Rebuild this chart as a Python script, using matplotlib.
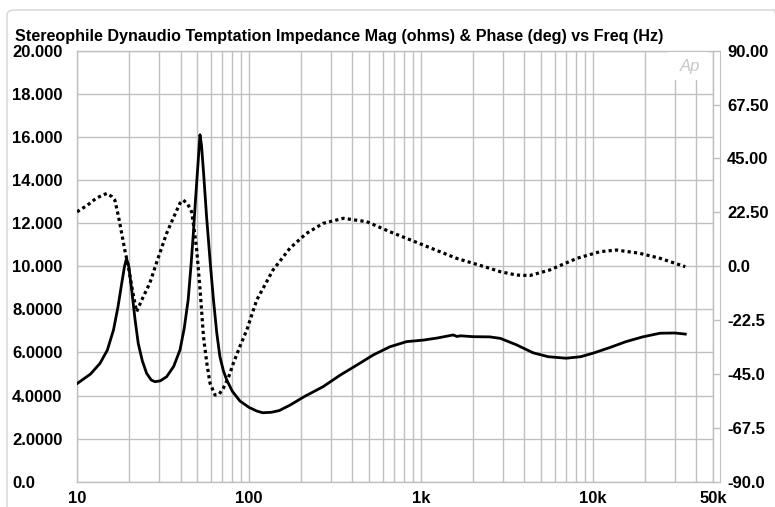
import matplotlib
matplotlib.use("Agg")
import matplotlib.pyplot as plt
from matplotlib.ticker import FixedLocator, LogLocator, NullFormatter
from matplotlib.patches import FancyBboxPatch, Rectangle

# ---- data ----
mag_freq = [10, 12, 13.6, 15, 16.3, 17.3, 18.2, 18.9, 19.4, 20.0, 20.8, 21.7, 22.7, 24, 25.4,
            27, 28.4, 30.5, 33.2, 36.5, 39.7, 42, 44.3, 46, 47.5, 49, 50.6, 51.9, 53, 54.5,
            56.7, 59.5, 62.2, 65, 67.8, 71, 74.3, 80, 88.5, 100, 111, 120, 135, 150, 173,
            210, 270, 340, 424, 528, 660, 826, 1031, 1250, 1541, 1620, 1700, 2010, 2518,
            2900, 3600, 4500, 5500, 7000, 8500, 10000, 12500, 15600, 19500, 24600, 30000, 34500]
mag_ohms = [4.55, 5.0, 5.49, 6.1, 7.04, 8.1, 9.2, 10.0, 10.35, 10.0, 8.9, 7.6, 6.42, 5.6, 5.03,
            4.72, 4.64, 4.68, 4.87, 5.35, 6.11, 7.1, 8.43, 10.0, 11.53, 13.2, 14.8, 16.1, 15.6, 14.3,
            12.3, 10.2, 8.43, 6.9, 5.8, 5.15, 4.72, 4.2, 3.75, 3.45, 3.28, 3.2, 3.22, 3.3, 3.55,
            3.95, 4.41, 4.95, 5.41, 5.88, 6.26, 6.50, 6.57, 6.67, 6.81, 6.74, 6.77, 6.73, 6.72,
            6.65, 6.35, 5.98, 5.8, 5.73, 5.8, 5.96, 6.22, 6.50, 6.72, 6.89, 6.9, 6.85]

ph_freq = [10, 11.5, 13, 14.9, 16.0, 16.6, 17.4, 18.2, 19.0, 19.9, 21.0, 22.2, 24.2, 26.5, 29.5,
           33.2, 36.5, 39.7, 41.5, 44, 46.4, 48, 49.7, 52, 54.4, 57, 59.4, 63.5, 67, 70.9,
           76, 81.1, 88.5, 97.2, 111, 138, 173, 216, 270, 354, 484, 660, 1031, 1612, 2518,
           2900, 3600, 4300, 5600, 8100, 11000, 13700, 18700, 24600, 34500]
ph_deg = [22.7, 25.5, 28.5, 30.4, 29.0, 27.6, 21.0, 13.7, 6.5, -0.2, -10, -19.0, -13, -7.1, 3.0,
          13.7, 20.5, 26.3, 27.6, 26.0, 22.75, 15.5, 6.76, -10, -29.4, -41, -48.9, -53.8, -53.5, -51.0,
          -46.5, -40.6, -33.6, -26.6, -14.1, -1.6, 7.5, 13.7, 17.9, 20.0, 18.6, 14.4, 8.85, 3.3, -0.9,
          -2.3, -3.7, -3.9, -1.6, 3.3, 6.05, 6.76, 5.4, 3.3, -0.2]

x_ticks = [10, 100, 1000, 10000, 50000]
x_labels = ["10", "100", "1k", "10k", "50k"]
left_ticks = [0, 2, 4, 6, 8, 10, 12, 14, 16, 18, 20]
left_labels = ["0.0", "2.0000", "4.0000", "6.0000", "8.0000", "10.000", "12.000",
               "14.000", "16.000", "18.000", "20.000"]
right_ticks = [-90, -67.5, -45, -22.5, 0, 22.5, 45, 67.5, 90]
right_labels = ["-90.0", "-67.5", "-45.0", "-22.5", "0.0", "22.50", "45.00", "67.50", "90.00"]
title = "Stereophile Dynaudio Temptation Impedance Mag (ohms) & Phase (deg) vs Freq (Hz)"

# ---- figure ----
W, H = 775, 507
plt.rcParams['font.family'] = ['Liberation Sans', 'DejaVu Sans']
plt.rcParams['font.weight'] = 'bold'
fig = plt.figure(figsize=(W / 100, H / 100), dpi=100)

L, R, T, B = 77, 713, 50.7, 481.7
ax = fig.add_axes([L / W, 1 - B / H, (R - L) / W, (B - T) / H])

grid_c = "#c0c0c0"
# outer border
fig.add_artist(FancyBboxPatch((7 / W, -0.2), 1.0, (H - 10) / H + 0.2,
                              boxstyle="round,pad=0,rounding_size=0.01",
                              transform=fig.transFigure, fill=False,
                              edgecolor="#d4d4d4", linewidth=1.0))

FS = 12
ax.set_xscale("log")
ax.set_xlim(10, 50000)
ax.set_ylim(0, 20)
ax.xaxis.set_major_locator(FixedLocator(x_ticks))
ax.xaxis.set_minor_locator(LogLocator(base=10, subs=range(2, 10), numticks=20))
ax.xaxis.set_minor_formatter(NullFormatter())
ax.tick_params(axis="x", which="both", length=0, pad=7)
ax.tick_params(axis="y", which="both", length=0, pad=46.8)
ax.set_xticklabels(x_labels, fontsize=FS, fontweight="bold")
ax.set_yticks(left_ticks)
ax.set_yticklabels(left_labels, fontsize=FS, fontweight="bold", ha="left")
ax.grid(True, which="both", axis="x", color=grid_c, linewidth=1.0)
ax.grid(True, which="major", axis="y", color=grid_c, linewidth=1.0)
ax.set_axisbelow(True)
for s in ax.spines.values():
    s.set_color(grid_c)
    s.set_linewidth(1.0)

ax.plot(mag_freq, mag_ohms, color="black", linewidth=2.0, solid_joinstyle="round", zorder=3)

ax2 = ax.twinx()
ax2.set_ylim(-90, 90)
ax2.set_yticks(right_ticks)
ax2.tick_params(axis="y", direction="in", length=5, width=1, color=grid_c, pad=5, labelsize=FS)
ax2.set_yticklabels(right_labels, fontsize=FS, fontweight="bold")
for t in ax2.yaxis.get_major_ticks():
    t.label1.set_fontweight("bold")
    t.label2.set_fontweight("bold")
for k in ["left", "top", "bottom"]:
    ax2.spines[k].set_visible(False)
ax2.spines["right"].set_position(("outward", 5))
ax2.spines["right"].set_color(grid_c)
ax2.plot(ph_freq, ph_deg, color="black", linewidth=2.3, linestyle=(0, (1, 1.0)), zorder=3)

# Ap logo
fig.add_artist(Rectangle((668 / W, 1 - 80 / H), 40 / W, 28 / H, transform=fig.transFigure,
                         facecolor="white", edgecolor="none", zorder=1))
fig.text(690 / W, 1 - 66 / H, "Ap", fontsize=12, style="italic", fontweight="normal",
         color="#c8c8c8", ha="center", va="center", zorder=2)

fig.text(15 / W, 1 - 36 / H, title, fontsize=11.6, fontweight="bold", ha="left", va="center")

fig.savefig("out.png", dpi=100)
